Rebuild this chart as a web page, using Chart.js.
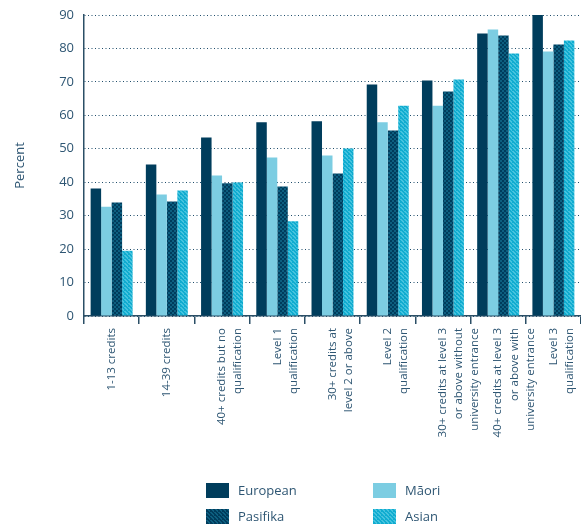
<!DOCTYPE html>
<html>
<head>
<meta charset="utf-8">
<script src="https://cdn.jsdelivr.net/npm/chart.js@4.4.1/dist/chart.umd.min.js"></script>
<style>
  body { margin: 0; background: #fff; }
  #wrap { position: relative; width: 581px; height: 524px; }
  #legend { position: absolute; left: 206px; top: 481px; width: 260px;
    font-family: "Open Sans", sans-serif; font-size: 13px; color: #2e5673; }
  .item { position: absolute; display: flex; align-items: center; }
  .box { width: 23px; height: 15px; margin-right: 9px; }
</style>
</head>
<body>
<div id="wrap">
  <canvas id="myChart" width="581" height="524"></canvas>
  <div id="legend"></div>
</div>
<script>
const categories = [
    ["1-13 credits"],
    ["14-39 credits"],
    ["40+ credits but no", "qualification"],
    ["Level 1", "qualification"],
    ["30+ credits at", "level 2 or above"],
    ["Level 2", "qualification"],
    ["30+ credits at level 3", "or above without", "university entrance"],
    ["40+ credits at level 3", "or above with", "university entrance"],
    ["Level 3", "qualification"]
];
const european = [38.1, 45.3, 53.4, 57.9, 58.2, 69.2, 70.4, 84.5, 90];
const maori = [32.7, 36.3, 42.0, 47.4, 48.0, 57.9, 62.9, 85.7, 79.1];
const pasifika = [33.9, 34.2, 39.7, 38.7, 42.6, 55.5, 67.1, 83.9, 81.2];
const asian = [19.5, 37.5, 39.9, 28.3, 50.1, 62.9, 70.7, 78.5, 82.4];
const yTicks = [0, 10, 20, 30, 40, 50, 60, 70, 80, 90];

const textColor = '#2e5673';
const axisColor = '#2b4f66';

function makePattern(c1, c2, diagonal) {
    const p = document.createElement('canvas');
    p.width = 4; p.height = 4;
    const g = p.getContext('2d');
    g.fillStyle = c1;
    g.fillRect(0, 0, 4, 4);
    g.fillStyle = c2;
    if (diagonal) {
        for (let i = 0; i < 4; i++) g.fillRect((i + 1) % 4, i, 2, 1);
    } else {
        g.fillRect(0, 0, 2, 2);
        g.fillRect(2, 2, 2, 2);
    }
    return document.getElementById('myChart').getContext('2d').createPattern(p, 'repeat');
}

const pasifikaFill = makePattern('#003c5c', '#0d5f80', false);
const asianFill = makePattern('#10acd0', '#45c3de', true);

const series = [
    { label: 'European', data: european, backgroundColor: '#003d5c' },
    { label: 'Māori', data: maori, backgroundColor: '#7ccde2' },
    { label: 'Pasifika', data: pasifika, backgroundColor: pasifikaFill },
    { label: 'Asian', data: asian, backgroundColor: asianFill }
];

const ctx = document.getElementById('myChart').getContext('2d');
const myChart = new Chart(ctx, {
    type: 'bar',
    data: {
        labels: categories,
        datasets: series.map(s => ({
            label: s.label,
            data: s.data,
            backgroundColor: s.backgroundColor,
            borderWidth: 0,
            categoryPercentage: 0.76,
            barPercentage: 1
        }))
    },
    options: {
        responsive: false,
        animation: false,
        layout: { padding: { top: 15, right: 0, left: 0, bottom: 0 } },
        plugins: { legend: { display: false }, tooltip: { enabled: false } },
        scales: {
            x: {
                afterFit: s => { s.height = 208; s.paddingRight = 0; s.paddingLeft = 0; },
                border: { color: axisColor, width: 1.5 },
                grid: { offset: true, drawOnChartArea: false, tickLength: 8, color: axisColor, lineWidth: 1.5 },
                ticks: {
                    color: textColor,
                    font: { family: 'Open Sans', size: 11.5, lineHeight: 1.4 },
                    minRotation: 90, maxRotation: 90, autoSkip: false, padding: 4
                }
            },
            y: {
                min: 0, max: 90,
                afterFit: s => { s.width = 84; s.paddingTop = 0; s.paddingBottom = 0; },
                afterBuildTicks: s => { s.ticks = yTicks.map(v => ({ value: v })); },
                border: { color: axisColor, width: 1.5, dash: [1, 2.5] },
                grid: { color: '#1f4d6a', lineWidth: 1, drawTicks: false },
                ticks: { color: textColor, font: { family: 'Open Sans', size: 13 }, padding: 10 },
                title: { display: true, text: 'Percent', color: textColor, font: { family: 'Open Sans', size: 13 }, padding: { top: 12, bottom: 0 } }
            }
        }
    }
});

// legend in two columns like the original
const legend = document.getElementById('legend');
const spots = [[0, 0], [167, 0], [0, 26], [167, 26]];
series.forEach((s, i) => {
    const item = document.createElement('div');
    item.className = 'item';
    item.style.left = spots[i][0] + 'px';
    item.style.top = spots[i][1] + 'px';
    const box = document.createElement('canvas');
    box.className = 'box';
    box.width = 23; box.height = 15;
    const bctx = box.getContext('2d');
    bctx.fillStyle = i === 2 ? makePattern('#003c5c', '#0d5f80', true) : s.backgroundColor;
    bctx.fillRect(0, 0, 23, 15);
    item.appendChild(box);
    const t = document.createElement('span');
    t.textContent = s.label;
    item.appendChild(t);
    legend.appendChild(item);
});
</script>
</body>
</html>
